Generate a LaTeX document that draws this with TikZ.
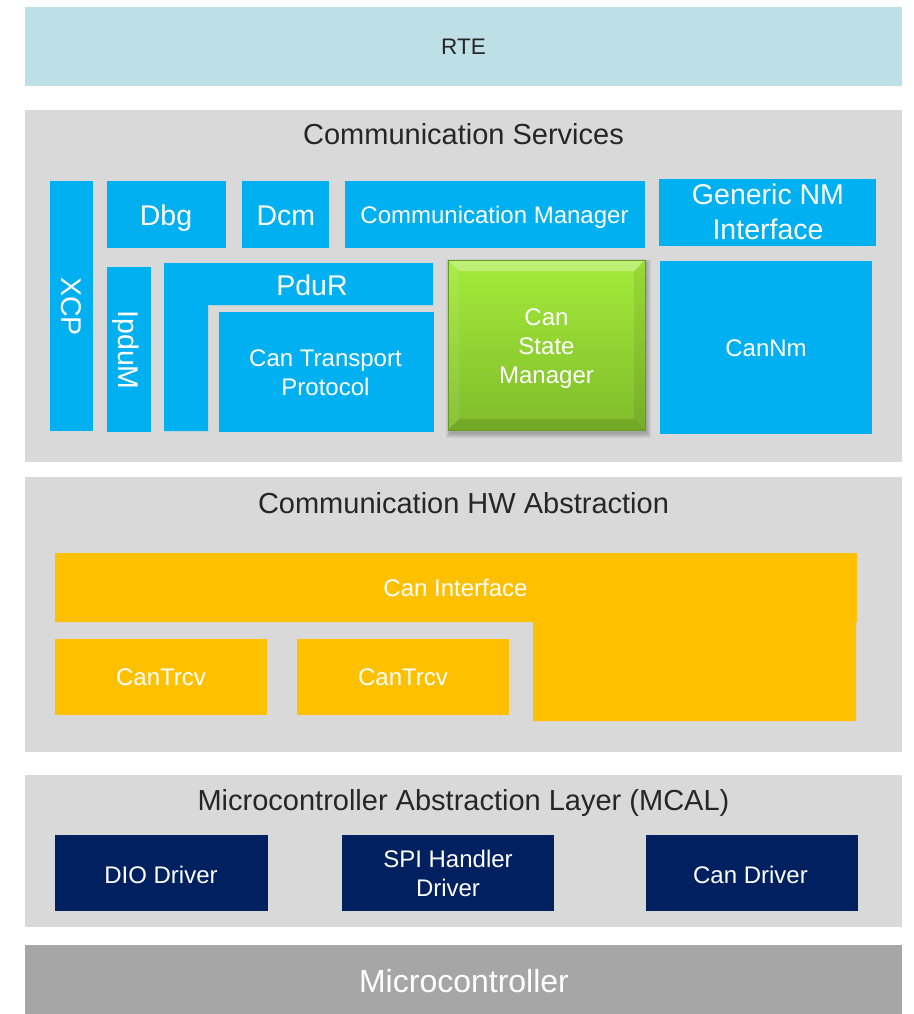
\documentclass[tikz,border=0pt]{standalone}
\usepackage{fontspec}
\setmainfont{Liberation Sans}

\definecolor{rteblue}{HTML}{BDE0E6}
\definecolor{panel}{HTML}{D9D9D9}
\definecolor{svcblue}{HTML}{00B0F0}
\definecolor{amber}{HTML}{FFC000}
\definecolor{navy}{HTML}{002060}
\definecolor{mcu}{HTML}{A6A6A6}
\definecolor{ink}{HTML}{262626}
\definecolor{csmtop}{HTML}{A4EB3A}
\definecolor{csmbot}{HTML}{80BC2B}
\definecolor{csmedge}{HTML}{679A22}

\tikzset{
  blk/.style={inner sep=0pt, outer sep=0pt, anchor=north west, draw=none},
  lbl/.style={inner sep=0pt, anchor=base, text=white, align=center},
  ttl/.style={inner sep=0pt, anchor=base, text=ink, font=\fontsize{29}{35}\selectfont},
  f24/.style={font=\fontsize{24}{29}\selectfont},
  f28/.style={font=\fontsize{28.5}{35}\selectfont},
}

% rectangular block: name, left, top, right, bottom, fill colour
\newcommand\blockat[6]{%
  \node[blk, fill=#6, minimum width={(#4-#2)*1pt}, minimum height={(#5-#3)*1pt}] (#1) at (#2,#3) {};}

\begin{document}
\begin{tikzpicture}[x=1pt, y=-1pt]
  \useasboundingbox (0,0) rectangle (913,1014);
  \fill[white] (0,0) rectangle (913,1014);

  % ---- layers ----
  \blockat{rte}{25}{7}{902}{86}{rteblue}
  \node[lbl, text=ink, font=\fontsize{22.5}{27}\selectfont] (rte-t) at (463.5,54.3) {RTE};

  \blockat{cs}{25}{110}{902}{462}{panel}
  \node[ttl] (cs-t) at (463.5,144.3) {Communication Services};

  \blockat{hw}{25}{477}{902}{752}{panel}
  \node[ttl] (hw-t) at (463.5,513.4) {Communication HW Abstraction};

  \blockat{mcal}{25}{775}{902}{927}{panel}
  \node[ttl] (mcal-t) at (463.5,810.4) {Microcontroller Abstraction Layer (MCAL)};

  \blockat{mcu}{25}{945}{902}{1014}{mcu}
  \node[lbl, font=\fontsize{32}{38}\selectfont] (mcu-t) at (464,992.3) {Microcontroller};

  % ---- communication services ----
  \blockat{xcp}{50}{181}{93}{431}{svcblue}
  \node[lbl, f28, anchor=center, rotate=-90] (xcp-t) at (71.7,306.5) {XCP};

  \blockat{dbg}{107}{181}{226}{248}{svcblue}
  \node[lbl, f28] (dbg-t) at (166,225.7) {Dbg};

  \blockat{dcm}{242}{181}{329}{248}{svcblue}
  \node[lbl, f28] (dcm-t) at (285.9,225.7) {Dcm};

  \blockat{comm}{345}{181}{645}{248}{svcblue}
  \node[lbl, f24] (comm-t) at (494.5,223.3) {Communication Manager};

  % multi-line labels are placed by the baseline of their last line
  \blockat{nmif}{659}{179}{876}{246}{svcblue}
  \node[lbl, f28] (nmif-t) at (768,239.3) {Generic NM\\Interface};

  \blockat{ipdum}{107}{267}{151}{432}{svcblue}
  \node[lbl, f28, anchor=center, rotate=-90] (ipdum-t) at (125.8,350) {IpduM};

  % PduR wraps round the transport protocol block
  \fill[svcblue] (164,263) -- (433,263) -- (433,305) -- (208,305) -- (208,431) -- (164,431) -- cycle;
  \node[lbl, f28] (pdur-t) at (312,295) {PduR};

  \blockat{cantp}{219}{312}{434}{432}{svcblue}
  \node[lbl, f24] (cantp-t) at (325.5,395.7) {Can Transport\\Protocol};

  \blockat{cannm}{660}{261}{872}{434}{svcblue}
  \node[lbl, f24] (cannm-t) at (766,356.6) {CanNm};

  % Can State Manager: bevelled green block with a soft shadow
  \foreach \d in {0,1,2,3,4}
    \fill[black, opacity=0.05] ({450-\d},{263-\d}) rectangle ({647+\d},{434+\d});
  \node[blk, minimum width=197pt, minimum height=170pt,
        top color=csmtop, bottom color=csmbot] (csm) at (448,260) {};
  \fill[white, opacity=.30] (csm.north west) -- (csm.north east)
    -- ([xshift=-11pt,yshift=-11pt]csm.north east) -- ([xshift=11pt,yshift=-11pt]csm.north west) -- cycle;
  \fill[white, opacity=.08] (csm.north west) -- (csm.south west)
    -- ([xshift=11pt,yshift=11pt]csm.south west) -- ([xshift=11pt,yshift=-11pt]csm.north west) -- cycle;
  \fill[black, opacity=.11] (csm.south west) -- (csm.south east)
    -- ([xshift=-11pt,yshift=11pt]csm.south east) -- ([xshift=11pt,yshift=11pt]csm.south west) -- cycle;
  \fill[black, opacity=.07] (csm.north east) -- (csm.south east)
    -- ([xshift=-11pt,yshift=11pt]csm.south east) -- ([xshift=-11pt,yshift=-11pt]csm.north east) -- cycle;
  \draw[csmedge, line width=.6pt] (csm.north west) rectangle (csm.south east);
  \node[lbl, f24] (csm-t) at (546.5,383) {Can\\State\\Manager};

  % ---- communication hardware abstraction ----
  \fill[amber] (55,553) -- (857,553) -- (857,622) -- (856,622) -- (856,721)
    -- (533,721) -- (533,622) -- (55,622) -- cycle;
  \node[lbl, f24] (canif-t) at (455.5,596.7) {Can Interface};

  \blockat{trcv1}{55}{639}{267}{715}{amber}
  \node[lbl, f24] (trcv1-t) at (161,685.6) {CanTrcv};

  \blockat{trcv2}{297}{639}{509}{715}{amber}
  \node[lbl, f24] (trcv2-t) at (403,685.6) {CanTrcv};

  % ---- MCAL drivers ----
  \blockat{dio}{55}{835}{267.5}{911}{navy}
  \node[lbl, f24] (dio-t) at (161,883.3) {DIO Driver};

  \blockat{spi}{342}{835}{554}{911}{navy}
  \node[lbl, f24] (spi-t) at (448,896.6) {SPI Handler\\Driver};

  \blockat{candrv}{645.7}{835}{857.8}{911}{navy}
  \node[lbl, f24] (candrv-t) at (750.5,883.3) {Can Driver};
\end{tikzpicture}
\end{document}
